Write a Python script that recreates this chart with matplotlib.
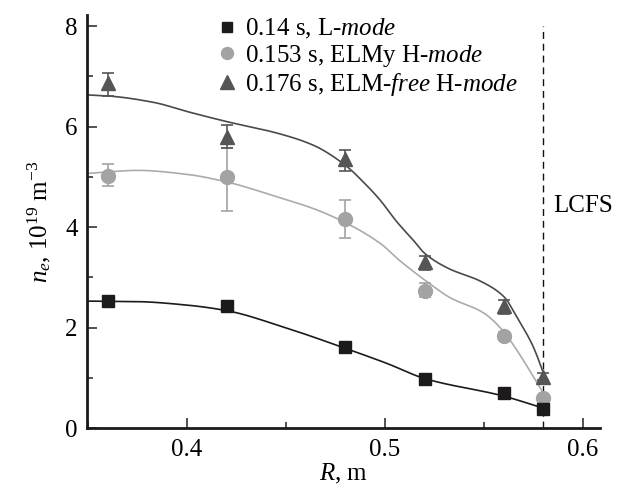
import numpy as np
import matplotlib
matplotlib.use("Agg")
import matplotlib.pyplot as plt
from matplotlib.lines import Line2D
from matplotlib.ticker import MultipleLocator

plt.rcParams['font.family'] = ['Liberation Serif', 'DejaVu Serif']
plt.rcParams['mathtext.fontset'] = 'custom'
plt.rcParams['mathtext.rm'] = 'Liberation Serif'
plt.rcParams['mathtext.it'] = 'Liberation Serif:italic'
plt.rcParams['mathtext.bf'] = 'Liberation Serif:bold'

# ---- data ----
R = [0.36, 0.42, 0.48, 0.52, 0.56, 0.58]

ne_L = [2.53, 2.44, 1.61, 0.99, 0.71, 0.38]

ne_ELMy = [5.02, 5.00, 4.16, 2.74, 1.84, 0.60]
ELMy_lo = [4.81, 4.33, 3.78, 2.62, 1.78, 0.55]
ELMy_hi = [5.25, 5.57, 4.54, 2.88, 1.92, 0.66]

ne_free = [6.86, 5.80, 5.35, 3.31, 2.43, 1.03]
free_lo = [6.61, 5.57, 5.12, 3.15, 2.27, 0.97]
free_hi = [7.07, 6.03, 5.54, 3.42, 2.55, 1.10]

# fitted curves
fitL_R = [0.35, 0.3747, 0.40, 0.42, 0.4505, 0.48, 0.501, 0.52, 0.56, 0.58]
fitL_ne = [2.53, 2.52, 2.45, 2.34, 1.99, 1.59, 1.29, 0.99, 0.64, 0.40]

fitE_R = [0.35, 0.36, 0.375, 0.40, 0.42, 0.4465, 0.4638, 0.48, 0.4975, 0.5076,
          0.5143, 0.52, 0.5328, 0.55, 0.56, 0.5665, 0.5749, 0.58]
fitE_ne = [5.07, 5.10, 5.13, 5.05, 4.90, 4.59, 4.37, 4.09, 3.68, 3.33,
           3.12, 2.95, 2.60, 2.29, 1.92, 1.56, 1.03, 0.70]

fitF_R = [0.35, 0.36, 0.3834, 0.40, 0.42, 0.4465, 0.4638, 0.48, 0.489, 0.4975,
          0.5059, 0.5143, 0.52, 0.532, 0.548, 0.56, 0.5665, 0.5749, 0.58]
fitF_ne = [6.63, 6.61, 6.48, 6.30, 6.10, 5.86, 5.63, 5.23, 4.90, 4.54,
           4.11, 3.74, 3.48, 3.18, 2.93, 2.62, 2.22, 1.62, 1.10]

labels = [r"0.14 s, L-$\mathit{mode}$",
          r"0.153 s, ELMy H-$\mathit{mode}$",
          r"0.176 s, ELM-$\mathit{free}$ H-$\mathit{mode}$"]
LCFS_R = 0.58


def pchip(x, y, xn):
    x = np.asarray(x, float); y = np.asarray(y, float)
    h = np.diff(x); d = np.diff(y) / h
    n = len(x)
    m = np.zeros(n)
    for k in range(1, n - 1):
        if d[k - 1] * d[k] <= 0:
            m[k] = 0.0
        else:
            w1 = 2 * h[k] + h[k - 1]; w2 = h[k] + 2 * h[k - 1]
            m[k] = (w1 + w2) / (w1 / d[k - 1] + w2 / d[k])
    m[0] = d[0]; m[-1] = d[-1]
    idx = np.clip(np.searchsorted(x, xn) - 1, 0, n - 2)
    t = (xn - x[idx]) / h[idx]
    h00 = 2 * t**3 - 3 * t**2 + 1; h10 = t**3 - 2 * t**2 + t
    h01 = -2 * t**3 + 3 * t**2; h11 = t**3 - t**2
    return h00 * y[idx] + h10 * h[idx] * m[idx] + h01 * y[idx + 1] + h11 * h[idx] * m[idx + 1]


c_L = '#1c1a1b'
c_E = '#a3a3a5'
c_F = '#555555'
c_Eline = '#ababab'
c_Fline = '#4a4a4a'

fig = plt.figure(figsize=(6.26, 4.86), dpi=100)
ax = fig.add_axes([87.3 / 626, 1 - 428.3 / 486, (600 - 87.3) / 626, (428.3 - 15) / 486])

for fr, fn, col in [(fitL_R, fitL_ne, c_L), (fitE_R, fitE_ne, c_Eline), (fitF_R, fitF_ne, c_Fline)]:
    xs = np.linspace(fr[0], fr[-1], 400)
    ax.plot(xs, pchip(fr, fn, xs), color=col, lw=1.2, zorder=2)

ne_E = np.array(ne_ELMy); ne_Fa = np.array(ne_free)
ax.errorbar(R, ne_ELMy, yerr=[ne_E - np.array(ELMy_lo), np.array(ELMy_hi) - ne_E],
            fmt='o', color=c_E, ms=10, capsize=4, elinewidth=1.2, capthick=1.2, zorder=3)
ax.errorbar(R, ne_free, yerr=[ne_Fa - np.array(free_lo), np.array(free_hi) - ne_Fa],
            fmt='^', color=c_F, ms=10.5, capsize=4, elinewidth=1.2, capthick=1.2, zorder=4)
ax.plot(R, ne_L, 's', color=c_L, ms=8.6, zorder=5)

ax.axvline(LCFS_R, ymin=0, ymax=8.0 / 8.22, color='#111111', lw=1.0, ls=(0, (5, 3.5)), zorder=1)
ax.text(LCFS_R + 0.0048, 4.42, "LCFS", fontsize=18, va='center', ha='left')

ax.set_xlim(0.3496, 0.6086)
ax.set_ylim(0, 8.22)
ax.xaxis.set_major_locator(MultipleLocator(0.1))
ax.xaxis.set_minor_locator(MultipleLocator(0.05))
ax.yaxis.set_major_locator(MultipleLocator(2))
ax.yaxis.set_minor_locator(MultipleLocator(1))
ax.set_xticks([0.4, 0.5, 0.6])
ax.set_xticklabels(['0.4', '0.5', '0.6'])
ax.tick_params(which='both', direction='in', width=1.1, labelsize=18, color='#222222')
ax.tick_params(which='major', length=7)
ax.tick_params(which='minor', length=4)
ax.tick_params(axis='x', pad=8)
ax.tick_params(axis='y', pad=7)
for s in ['top', 'right']:
    ax.spines[s].set_visible(False)
for s in ['left', 'bottom']:
    ax.spines[s].set_linewidth(2.0)
    ax.spines[s].set_color('#1a1a1a')

ax.set_xlabel(r"$\mathit{R}$, m", fontsize=18, labelpad=0)
ax.set_ylabel(r"$\mathit{n_e}$, 10$^{19}$ m$^{-3}$", fontsize=18, labelpad=9)

handles = [Line2D([], [], ls='none', marker='s', color=c_L, ms=7.2),
           Line2D([], [], ls='none', marker='o', color=c_E, ms=8.6),
           Line2D([], [], ls='none', marker='^', color=c_F, ms=9.4)]
fig.legend(handles, labels, loc='upper left', bbox_to_anchor=(216.7 / 626, 1 - 17 / 486),
           frameon=False, fontsize=18, borderpad=0, borderaxespad=0, handlelength=0.8,
           handletextpad=0.33, labelspacing=0.08)

fig.savefig('out.png', dpi=100)
